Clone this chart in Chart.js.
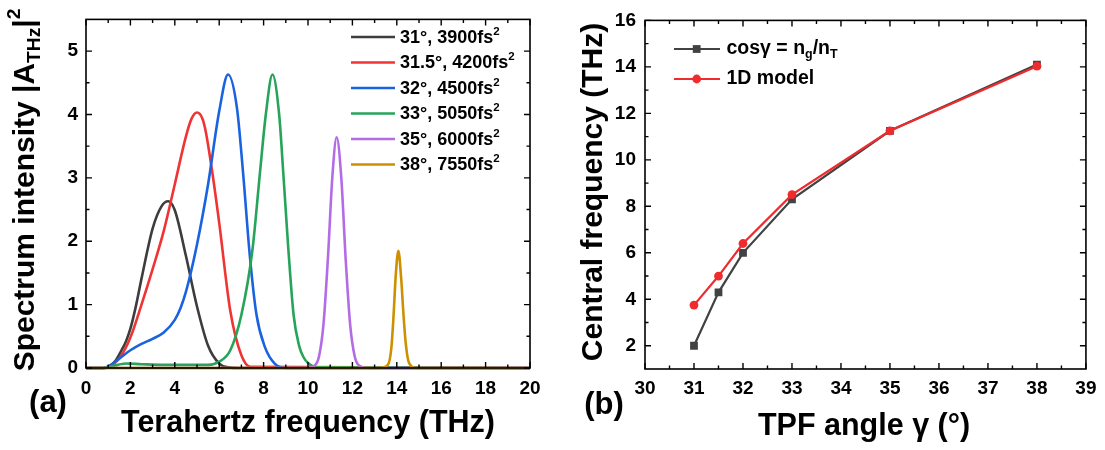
<!DOCTYPE html>
<html>
<head>
<meta charset="utf-8">
<script src="https://cdn.jsdelivr.net/npm/chart.js@4.4.0/dist/chart.umd.min.js"></script>
<style>
  html, body { margin: 0; padding: 0; background: #fff; }
  #wrap { position: relative; width: 1105px; height: 450px; }
  .panel { position: absolute; top: 0; }
</style>
</head>
<body>
<div id="wrap">
  <canvas id="chartA" class="panel" style="left:0" width="550" height="450"></canvas>
  <canvas id="chartB" class="panel" style="left:550px" width="555" height="450"></canvas>
</div>
<script>
// ---- panel (a): THz spectra ----
const labelsA = ['31°, 3900fs', '31.5°, 4200fs', '32°, 4500fs', '33°, 5050fs', '35°, 6000fs', '38°, 7550fs'];

const freq31 = [0, 0.8, 1.0, 1.3, 1.6, 1.8, 2.0, 2.25, 2.5, 3.0, 3.4, 3.7, 4.0, 4.5, 5.0, 5.5, 6.0, 6.4, 7.0, 20];
const amp31  = [0, 0, 0.02, 0.1, 0.28, 0.42, 0.62, 0.98, 1.41, 2.2, 2.55, 2.63, 2.49, 1.77, 0.97, 0.35, 0.07, 0.01, 0, 0];

const freq315 = [0, 0.8, 1.0, 1.5, 2.0, 2.5, 3.0, 3.5, 4.0, 4.5, 4.75, 5.0, 5.25, 5.4, 5.7, 6.0, 6.5, 7.0, 7.4, 20];
const amp315  = [0, 0, 0.02, 0.15, 0.48, 1.0, 1.56, 2.16, 2.9, 3.65, 3.93, 4.03, 3.93, 3.72, 3.06, 2.29, 0.9, 0.2, 0.02, 0];

const freq32 = [0, 0.8, 1.0, 1.5, 2.0, 2.5, 3.0, 3.5, 4.0, 4.25, 4.5, 5.0, 5.5, 6.0, 6.4, 6.8, 7.08, 7.38, 7.68, 8.06, 8.5, 9.0, 20];
const amp32  = [0, 0, 0.02, 0.15, 0.28, 0.38, 0.46, 0.56, 0.76, 0.94, 1.2, 1.95, 2.9, 4.05, 4.63, 4.1, 3.06, 1.77, 0.84, 0.33, 0.07, 0, 0];

const freq33 = [0, 0.8, 1.2, 1.8, 2.5, 3.5, 4.5, 5.5, 6.0, 6.5, 7.0, 7.5, 7.83, 8.1, 8.4, 8.7, 8.89, 9.1, 9.35, 9.6, 9.8, 10.0, 10.4, 20];
const amp33  = [0, 0, 0.03, 0.07, 0.06, 0.05, 0.05, 0.05, 0.1, 0.28, 0.84, 1.87, 3.06, 4.0, 4.63, 4.0, 3.06, 1.95, 0.84, 0.35, 0.17, 0.08, 0.01, 0];

const freq35 = [0, 9.8, 10.3, 10.5, 10.7, 10.9, 11.1, 11.29, 11.5, 11.7, 11.9, 12.1, 12.3, 12.8, 20];
const amp35  = [0, 0, 0.04, 0.19, 0.7, 1.75, 3.03, 3.64, 3.0, 1.7, 0.68, 0.19, 0.04, 0, 0];

const freq38 = [0, 13.2, 13.6, 13.75, 13.85, 13.95, 14.07, 14.2, 14.3, 14.4, 14.55, 14.9, 20];
const amp38  = [0, 0, 0.05, 0.3, 0.8, 1.45, 1.85, 1.4, 0.85, 0.4, 0.08, 0, 0];

const colorsA = ['#3d3d3d', '#f03434', '#1a63e0', '#25a45a', '#b36ce6', '#cc9000'];
const xTicksA = [0, 2, 4, 6, 8, 10, 12, 14, 16, 18, 20];
const yTicksA = [0, 1, 2, 3, 4, 5];

// ---- panel (b): central frequency vs TPF angle ----
const angles   = [31, 31.5, 32, 33, 35, 38];
const cosModel = [2.0, 4.3, 6.0, 8.3, 11.25, 14.1];
const oneD     = [3.75, 5.0, 6.4, 8.5, 11.25, 14.03];
const xTicksB = [30, 31, 32, 33, 34, 35, 36, 37, 38, 39];
const yTicksB = [2, 4, 6, 8, 10, 12, 14, 16];

const FONT = "'Liberation Sans', Arial, sans-serif";
Chart.defaults.font.family = FONT;
Chart.defaults.font.weight = 'bold';
Chart.defaults.color = '#000';

// text made of [string, 'sub'|'sup'|''] pieces, left aligned, y = middle
function richWidth(ctx, parts, size) {
  let w = 0;
  parts.forEach(p => {
    ctx.font = `bold ${p[1] ? size * 0.64 : size}px ${FONT}`;
    w += ctx.measureText(p[0]).width;
  });
  return w;
}
function drawRich(ctx, parts, x, y, size) {
  ctx.textBaseline = 'middle';
  ctx.textAlign = 'left';
  parts.forEach(p => {
    const s = p[1] ? size * 0.64 : size;
    const dy = p[1] === 'sub' ? size * 0.3 : (p[1] === 'sup' ? -size * 0.36 : 0);
    ctx.font = `bold ${s}px ${FONT}`;
    ctx.fillText(p[0], x, y + dy);
    x += ctx.measureText(p[0]).width;
  });
}
function mids(arr) {
  const out = [];
  for (let i = 0; i < arr.length - 1; i++) out.push((arr[i] + arr[i + 1]) / 2);
  return out;
}

// frame, inward ticks on all four sides, titles and legend
function framePlugin(opts) {
  return {
    id: 'frame',
    afterDraw(chart) {
      const ctx = chart.ctx;
      const a = chart.chartArea;
      const xs = chart.scales.x, ys = chart.scales.y;
      ctx.save();
      ctx.strokeStyle = '#000';
      ctx.lineWidth = 1.6;
      ctx.strokeRect(a.left, a.top, a.right - a.left, a.bottom - a.top);
      ctx.lineWidth = 1.4;
      const tick = (vals, len, isX) => {
        vals.forEach(v => {
          ctx.beginPath();
          if (isX) {
            const px = xs.getPixelForValue(v);
            ctx.moveTo(px, a.bottom); ctx.lineTo(px, a.bottom - len);
            ctx.moveTo(px, a.top); ctx.lineTo(px, a.top + len);
          } else {
            const py = ys.getPixelForValue(v);
            ctx.moveTo(a.left, py); ctx.lineTo(a.left + len, py);
            ctx.moveTo(a.right, py); ctx.lineTo(a.right - len, py);
          }
          ctx.stroke();
        });
      };
      tick(opts.xMajor, 6, true);
      tick(mids(opts.xMajor), 3.5, true);
      tick(opts.yMajor, 6, false);
      tick(opts.yMinor, 3.5, false);

      ctx.fillStyle = '#000';
      const xw = richWidth(ctx, opts.xTitle, 30.5);
      drawRich(ctx, opts.xTitle, opts.xTitlePos[0] - xw / 2, opts.xTitlePos[1], 30.5);
      const yw = richWidth(ctx, opts.yTitle, 30);
      ctx.save();
      ctx.translate(opts.yTitlePos[0], opts.yTitlePos[1]);
      ctx.rotate(-Math.PI / 2);
      drawRich(ctx, opts.yTitle, -yw / 2, 0, 30);
      ctx.restore();
      ctx.font = `bold 31px ${FONT}`;
      ctx.textAlign = 'center';
      ctx.textBaseline = 'middle';
      ctx.fillText(opts.tag, opts.tagPos[0], opts.tagPos[1]);
      opts.legend(ctx, chart);
      ctx.restore();
    }
  };
}

// ---------- chart (a) ----------
const freqsA = [freq31, freq315, freq32, freq33, freq35, freq38];
const ampsA = [amp31, amp315, amp32, amp33, amp35, amp38];

new Chart(document.getElementById('chartA'), {
  type: 'line',
  data: {
    datasets: labelsA.map((lab, i) => ({
      label: lab,
      data: freqsA[i].map((f, k) => ({ x: f, y: ampsA[i][k] })),
      borderColor: colorsA[i],
      borderWidth: 2.6,
      pointRadius: 0,
      cubicInterpolationMode: 'monotone',
      clip: 6,
      order: labelsA.length - i
    }))
  },
  options: {
    responsive: false,
    animation: false,
    layout: { padding: { left: 0, top: 12, right: 20, bottom: 0 } },
    plugins: { legend: { display: false }, tooltip: { enabled: false } },
    scales: {
      x: {
        type: 'linear', min: 0, max: 20,
        grid: { display: false, drawTicks: false },
        border: { display: false },
        ticks: { font: { size: 19, weight: 'bold' }, padding: 9, maxRotation: 0 },
        afterBuildTicks: s => { s.ticks = xTicksA.map(v => ({ value: v })); },
        afterFit: s => { s.height = 82; }
      },
      y: {
        type: 'linear', min: 0, max: 5.5,
        grid: { display: false, drawTicks: false },
        border: { display: false },
        ticks: { font: { size: 19, weight: 'bold' }, padding: 8 },
        afterBuildTicks: s => { s.ticks = yTicksA.map(v => ({ value: v })); },
        afterFit: s => { s.width = 86; }
      }
    }
  },
  plugins: [framePlugin({
    xMajor: xTicksA,
    yMajor: yTicksA,
    yMinor: mids(yTicksA),
    xTitle: [['Terahertz frequency (THz)', '']],
    xTitlePos: [308, 424],
    yTitle: [['Spectrum intensity |A', ''], ['THz', 'sub'], ['|', ''], ['2', 'sup']],
    yTitlePos: [26, 190],
    tag: '(a)',
    tagPos: [48, 403],
    legend(ctx, chart) {
      chart.data.datasets.forEach((ds, i) => {
        const y = 37 + i * 25.5;
        ctx.strokeStyle = ds.borderColor;
        ctx.lineWidth = 2.6;
        ctx.beginPath();
        ctx.moveTo(351, y); ctx.lineTo(395, y);
        ctx.stroke();
        ctx.fillStyle = '#000';
        drawRich(ctx, [[ds.label, ''], ['2', 'sup']], 400, y + 1, 18);
      });
    }
  })]
});

// ---------- chart (b) ----------
new Chart(document.getElementById('chartB'), {
  type: 'line',
  data: {
    datasets: [
      {
        label: 'cosγ = ng/nT',
        data: angles.map((a, k) => ({ x: a, y: cosModel[k] })),
        borderColor: '#424242', backgroundColor: '#424242',
        borderWidth: 2.2, pointStyle: 'rect', pointRadius: 5.5, pointBorderWidth: 0,
        tension: 0, order: 2, clip: 8
      },
      {
        label: '1D model',
        data: angles.map((a, k) => ({ x: a, y: oneD[k] })),
        borderColor: '#ef2b2e', backgroundColor: '#ef2b2e',
        borderWidth: 2.2, pointStyle: 'circle', pointRadius: 4.4, pointBorderWidth: 0,
        tension: 0, order: 1, clip: 8
      }
    ]
  },
  options: {
    responsive: false,
    animation: false,
    layout: { padding: { left: 0, top: 19, right: 16, bottom: 0 } },
    plugins: { legend: { display: false }, tooltip: { enabled: false } },
    scales: {
      x: {
        type: 'linear', min: 30, max: 39,
        grid: { display: false, drawTicks: false },
        border: { display: false },
        ticks: { font: { size: 19, weight: 'bold' }, padding: 8.5, maxRotation: 0 },
        afterBuildTicks: s => { s.ticks = xTicksB.map(v => ({ value: v })); },
        afterFit: s => { s.height = 81; }
      },
      y: {
        type: 'linear', min: 1, max: 16,
        grid: { display: false, drawTicks: false },
        border: { display: false },
        ticks: { font: { size: 19, weight: 'bold' }, padding: 9 },
        afterBuildTicks: s => { s.ticks = yTicksB.map(v => ({ value: v })); },
        afterFit: s => { s.width = 95; }
      }
    }
  },
  plugins: [framePlugin({
    xMajor: xTicksB,
    yMajor: yTicksB,
    yMinor: mids(yTicksB),
    xTitle: [['TPF angle γ (°)', '']],
    xTitlePos: [314, 427],
    yTitle: [['Central frequency (THz)', '']],
    yTitlePos: [44, 192],
    tag: '(b)',
    tagPos: [54, 405],
    legend(ctx, chart) {
      const rows = [
        [['cosγ = n', ''], ['g', 'sub'], ['/n', ''], ['T', 'sub']],
        [['1D model', '']]
      ];
      chart.data.datasets.forEach((ds, i) => {
        const y = 49 + i * 30;
        ctx.strokeStyle = ds.borderColor;
        ctx.fillStyle = ds.backgroundColor;
        ctx.lineWidth = 2.2;
        ctx.beginPath();
        ctx.moveTo(124, y); ctx.lineTo(170, y);
        ctx.stroke();
        if (ds.pointStyle === 'rect') {
          ctx.fillRect(146.7 - 3.9, y - 3.9, 7.8, 7.8);
        } else {
          ctx.beginPath();
          ctx.arc(146.7, y, 4.4, 0, Math.PI * 2);
          ctx.fill();
        }
        ctx.fillStyle = '#000';
        drawRich(ctx, rows[i], 176.5, y, 19.5);
      });
    }
  })]
});
</script>
</body>
</html>
